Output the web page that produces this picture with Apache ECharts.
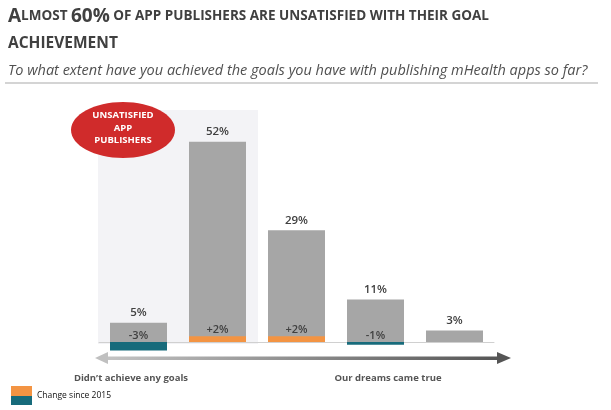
<!DOCTYPE html>
<html><head><meta charset="utf-8">
<script src="https://cdn.jsdelivr.net/npm/echarts@6/dist/echarts.min.js"></script>
<style>html,body{margin:0;padding:0;background:#fff}#c{width:611px;height:410px}</style>
</head><body><div id="c"></div>
<script>
const categories = ["Didn't achieve any goals", "2", "3", "4", "Our dreams came true"];
const shares = [5, 52, 29, 11, 3];
const changes = [-3, 2, 2, -1, null];
const changeLabels = ["-3%", "+2%", "+2%", "-1%", ""];

const chart = echarts.init(document.getElementById('c'));
const FONT = '"Open Sans", "Noto Sans", sans-serif';
const ORANGE = '#f39443', TEAL = '#176b7b', GREY = '#a6a6a6';

chart.setOption({
  animation: false,
  grid: {left: 99, right: 117, top: 111, bottom: 56.5},
  xAxis: {type: 'category', data: categories,
    axisLine: {show: true, lineStyle: {color: '#d0d0d0', width: 1}},
    axisTick: {show: false}, axisLabel: {show: false}},
  yAxis: [
    {type: 'value', min: -3, max: 60, show: false, splitLine: {show: false}},
    {type: 'value', min: -4, max: 80, show: false, splitLine: {show: false}}
  ],
  series: [
    {type: 'bar', data: shares, barWidth: 57, barGap: '-100%', yAxisIndex: 0,
     itemStyle: {color: GREY}, z: 2,
     label: {show: true, position: 'top', distance: 4, formatter: '{c}%',
       color: '#404040', fontSize: 11.5, fontFamily: FONT, fontWeight: 600}},
    {type: 'bar', data: changes.map(v => v == null ? null : {value: v,
        itemStyle: {color: v > 0 ? ORANGE : TEAL}}),
     barWidth: 57, barGap: '-100%', yAxisIndex: 1, z: 3},
    {type: 'bar', data: shares, barWidth: 57, barGap: '-100%', yAxisIndex: 0,
     itemStyle: {color: 'rgba(0,0,0,0)'}, z: 4, silent: true,
     label: {show: true, position: 'insideBottom',
       formatter: p => changeLabels[p.dataIndex],
       distance: 0,
       color: '#404040', fontSize: 11, fontFamily: FONT, fontWeight: 600},
     data: shares.map((v, i) => ({value: v, label: {distance: (changes[i] || 0) > 0 ? 7 : 1}}))}
  ],
  graphic: [
    {type: 'rect', shape: {x: 98, y: 110, width: 160, height: 234}, style: {fill: '#f3f3f6'}, z: -10, silent: true},
    {type: 'ellipse', shape: {cx: 123, cy: 130, rx: 52, ry: 28}, style: {fill: '#d02b2b'}, z: 10},
    {type: 'text', x: 123, y: 128, z: 11, style: {text: 'UNSATISFIED\nAPP\nPUBLISHERS', fill: '#fff',
      font: 'bold 9.5px ' + FONT, align: 'center', verticalAlign: 'middle', lineHeight: 12.5}},
    // title
    {type: 'text', x: 8, y: 7, style: {rich: {
        b: {fontSize: 19, fontWeight: 'bold', fontFamily: FONT, fill: '#404040', color: '#404040'},
        s: {fontSize: 13.5, fontWeight: 'bold', fontFamily: FONT, fill: '#404040', color: '#404040'}},
      text: '{b|A}{s|LMOST }{b|60%}{s| OF APP PUBLISHERS ARE UNSATISFIED WITH THEIR GOAL}'}},
    {type: 'text', x: 8, y: 36, style: {text: 'ACHIEVEMENT', fill: '#404040', font: 'bold 15.5px ' + FONT}},
    {type: 'text', x: 8, y: 63, style: {text: 'To what extent have you achieved the goals you have with publishing mHealth apps so far?',
      fill: '#505050', font: 'italic 14.5px ' + FONT}},
    {type: 'rect', shape: {x: 5, y: 82, width: 593, height: 2}, style: {fill: '#d4d4d4'}},
    // arrow
    {type: 'rect', shape: {x: 104, y: 356.5, width: 396, height: 3.5},
      style: {fill: new echarts.graphic.LinearGradient(0, 0, 1, 0, [{offset: 0, color: '#c4c4c4'}, {offset: 1, color: '#555'}])}},
    {type: 'polygon', shape: {points: [[95, 358], [108, 352], [108, 364]]}, style: {fill: '#c0c0c0'}},
    {type: 'polygon', shape: {points: [[511, 358], [497, 352], [497, 364]]}, style: {fill: '#555'}},
    {type: 'text', x: 131, y: 378, style: {text: "Didn\u2019t achieve any goals", fill: '#555',
      font: 'bold 9.5px ' + FONT, align: 'center', verticalAlign: 'middle'}},
    {type: 'text', x: 388, y: 378, style: {text: 'Our dreams came true', fill: '#555',
      font: 'bold 9.5px ' + FONT, align: 'center', verticalAlign: 'middle'}},
    // legend
    {type: 'rect', shape: {x: 11, y: 386, width: 21, height: 10}, style: {fill: ORANGE}},
    {type: 'rect', shape: {x: 11, y: 396, width: 21, height: 9}, style: {fill: TEAL}},
    {type: 'text', x: 37, y: 396, style: {text: 'Change since 2015', fill: '#111',
      font: '8.5px ' + FONT, verticalAlign: 'middle'}}
  ]
});
</script></body></html>
